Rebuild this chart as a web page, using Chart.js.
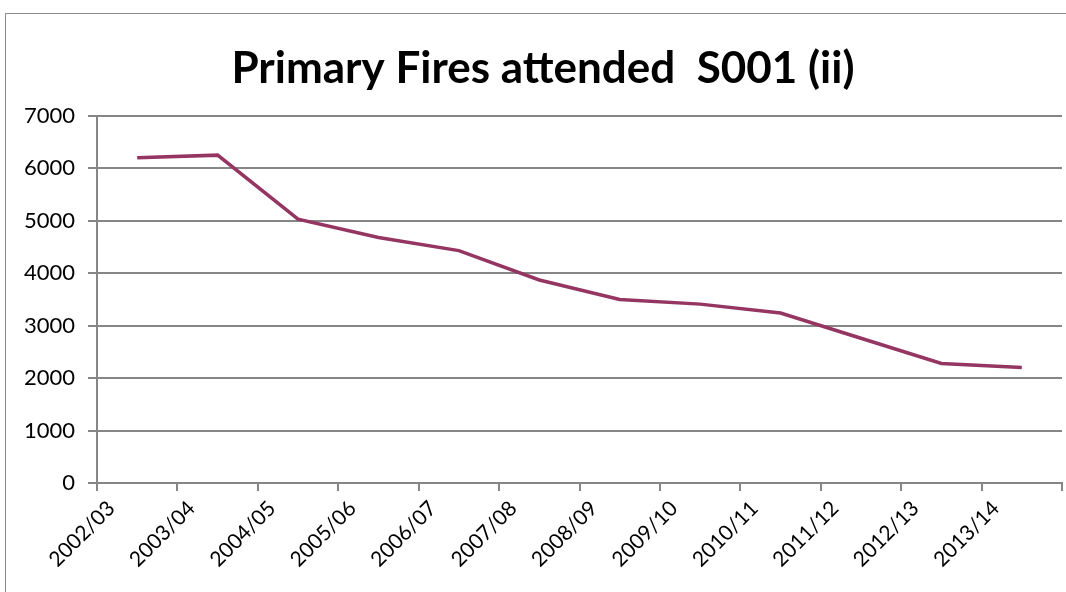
<!DOCTYPE html>
<html>
<head>
<meta charset="utf-8">
<script src="https://cdn.jsdelivr.net/npm/chart.js@4"></script>
<style>
  html, body { margin: 0; padding: 0; background: #fff; overflow: hidden; }
  #frame {
    position: absolute; left: 5px; top: 13px; width: 1200px; height: 700px;
    border: 1px solid #8c8c8c;
  }
  #wrap { position: absolute; left: 0; top: 0; width: 1066px; height: 592px; }
</style>
</head>
<body>
<div id="frame"></div>
<div id="wrap"><canvas id="fires"></canvas></div>
<script>
// Primary fires attended, S001 (ii)
const years = [
  "2002/03", "2003/04", "2004/05", "2005/06", "2006/07", "2007/08",
  "2008/09", "2009/10", "2010/11", "2011/12", "2012/13", "2013/14",
];
const fires = [6200, 6250, 5030, 4680, 4430, 3870, 3500, 3410, 3240, 2760, 2280, 2200];
const yTicks = [0, 1000, 2000, 3000, 4000, 5000, 6000, 7000];

const gridGrey = "#868686";

new Chart(document.getElementById("fires"), {
  type: "line",
  data: {
    labels: years,
    datasets: [
      {
        label: "Primary Fires",
        data: fires,
        borderColor: "#953562",
        backgroundColor: "#953562",
        borderWidth: 3.5,
        pointRadius: 0,
        tension: 0,
      },
    ],
  },
  options: {
    responsive: true,
    maintainAspectRatio: false,
    animation: false,
    layout: { padding: { left: 24, right: 4, top: 0, bottom: 0 } },
    plugins: {
      legend: { display: false },
      tooltip: { enabled: false },
      title: {
        display: true,
        text: "Primary Fires attended  S001 (ii)",
        color: "#000",
        font: { family: "Lato", size: 44, weight: "bold" },
        padding: { top: 42, bottom: 21 },
      },
    },
    scales: {
      x: {
        offset: true,
        grid: {
          offset: true,
          drawOnChartArea: false,
          drawTicks: true,
          tickLength: 8,
          color: gridGrey,
          lineWidth: 2,
        },
        border: { display: true, color: gridGrey, width: 2 },
        ticks: {
          color: "#000",
          font: { family: "Lato", size: 21 },
          minRotation: 45,
          maxRotation: 45,
          autoSkip: false,
          padding: 5,
          labelOffset: -26,
        },
        afterFit: function (scale) {
          scale.height = 109;
        },
      },
      y: {
        min: 0,
        max: 7000,
        afterBuildTicks: function (scale) {
          scale.ticks = yTicks.map((v) => ({ value: v }));
        },
        grid: {
          color: gridGrey,
          lineWidth: 2,
          tickLength: 9,
        },
        border: { display: true, color: gridGrey, width: 2 },
        ticks: {
          color: "#000",
          font: { family: "Lato", size: 22 },
          padding: 13,
          callback: (v) => String(v),
        },
        afterFit: function (scale) {
          scale.width = 73;
        },
      },
    },
  },
});
</script>
</body>
</html>
